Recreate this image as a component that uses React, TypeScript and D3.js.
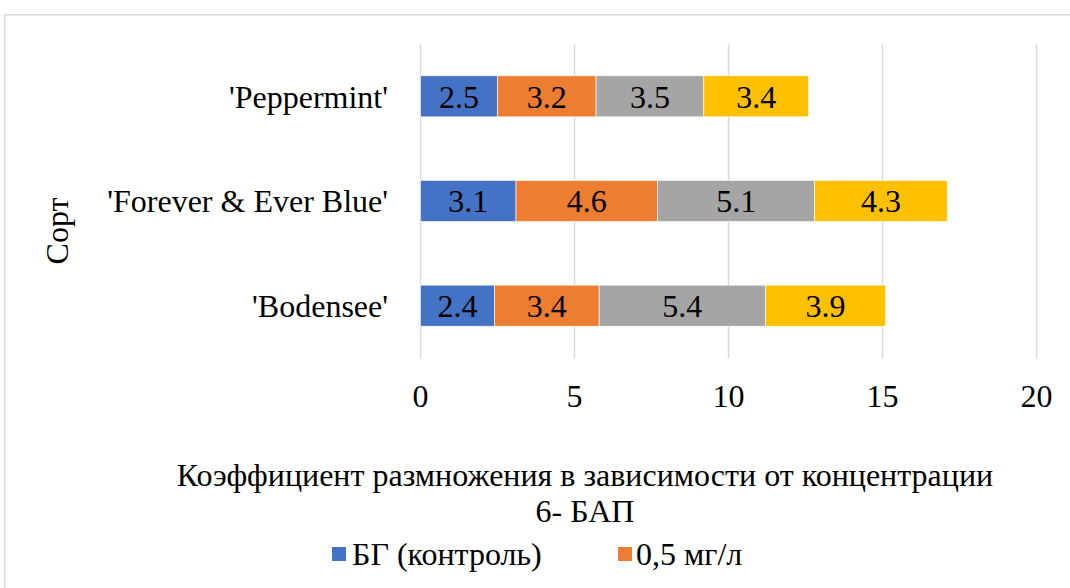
import React from "react";
import * as d3 from "d3";

const categories = ["'Bodensee'", "'Forever & Ever Blue'", "'Peppermint'"];
const seriesNames = ["БГ (контроль)", "0,5 мг/л", "1,0 мг/л", "1,5 мг/л"];
const seriesColors = ["#4472C4", "#ED7D31", "#A5A5A5", "#FFC000"];
const s1 = [2.4, 3.1, 2.5];
const s2 = [3.4, 4.6, 3.2];
const s3 = [5.4, 5.1, 3.5];
const s4 = [3.9, 4.3, 3.4];
const xTicks = [0, 5, 10, 15, 20];
const xTitleLines = ["Коэффициент размножения в зависимости от концентрации", "6- БАП"];
const yTitle = "Сорт";
const legendShown = 2;

const W = 1070;
const H = 588;
const FONT = '"Liberation Serif", "Times New Roman", serif';
const FS = 32;

export default function App() {
  const values = [s1, s2, s3, s4];
  const x = d3.scaleLinear().domain([0, 20]).range([420.5, 1036.5]);
  const y = d3
    .scaleBand<string>()
    .domain([...categories].reverse())
    .range([44, 358])
    .paddingInner(0.608)
    .paddingOuter(0.304);

  const rows = categories.map((c, i) => {
    const obj: any = { cat: c };
    seriesNames.forEach((s, k) => (obj[s] = values[k][i]));
    return obj;
  });
  const stacked = d3.stack<any>().keys(seriesNames)(rows);

  const legendItems = [
    { x: 332, textX: 352 },
    { x: 618, textX: 636 },
  ];
  const ts = { fontFamily: FONT };

  return (
    <div style={{ position: "absolute", left: 0, top: 0 }}>
      <svg width={W} height={H} style={{ display: "block", background: "#fff" }}>
        <rect x={4.75} y={14.75} width={W + 20} height={H + 20} fill="#fff" stroke="#d9d9d9" strokeWidth={1.5} />
        {xTicks.map((t) => (
          <line key={t} x1={x(t)} x2={x(t)} y1={44} y2={358} stroke="#d9d9d9" strokeWidth={1.5} />
        ))}
        {stacked.map((layer, k) => (
          <g key={k}>
            {layer.map((d, i) => {
              const x0 = x(d[0]);
              const x1 = x(d[1]);
              const yy = y(d.data.cat)!;
              return (
                <g key={i}>
                  <rect x={x0} y={yy} width={x1 - x0} height={y.bandwidth()} fill={seriesColors[k]} stroke="#fff" strokeWidth={0.6} />
                  <text
                    x={(x0 + x1) / 2}
                    y={yy + y.bandwidth() / 2}
                    dy="0.35em"
                    textAnchor="middle"
                    fontSize={FS}
                    fill="#000"
                    style={ts}
                  >
                    {values[k][i].toFixed(1)}
                  </text>
                </g>
              );
            })}
          </g>
        ))}
        {categories.map((c) => (
          <text key={c} x={388} y={y(c)! + y.bandwidth() / 2} dy="0.35em" textAnchor="end" fontSize={FS} fill="#000" style={ts}>
            {c}
          </text>
        ))}
        {xTicks.map((t) => (
          <text key={t} x={x(t)} y={396} dy="0.35em" textAnchor="middle" fontSize={FS} fill="#000" style={ts}>
            {t}
          </text>
        ))}
        <text transform="translate(57,231) rotate(-90)" dy="0.35em" textAnchor="middle" fontSize={FS} fill="#000" style={ts}>
          {yTitle}
        </text>
        {xTitleLines.map((l, i) => (
          <text key={i} x={585} y={475 + i * 36} dy="0.35em" textAnchor="middle" fontSize={FS} fill="#000" style={ts}>
            {l}
          </text>
        ))}
        {legendItems.slice(0, legendShown).map((it, k) => (
          <g key={k}>
            <rect x={it.x} y={547} width={14} height={14} fill={seriesColors[k]} />
            <text x={it.textX} y={554} dy="0.35em" fontSize={FS} fill="#000" style={ts}>
              {seriesNames[k]}
            </text>
          </g>
        ))}
      </svg>
    </div>
  );
}
